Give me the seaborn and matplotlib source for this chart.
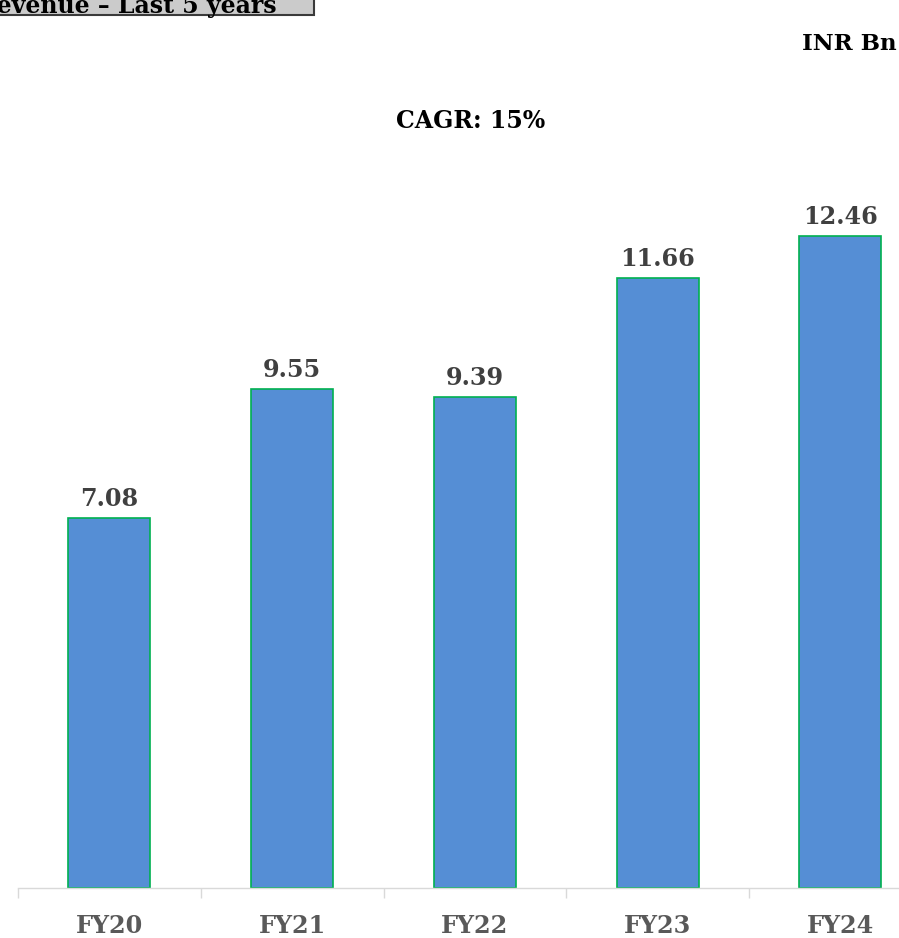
import matplotlib
matplotlib.use("Agg")
import matplotlib.pyplot as plt
import seaborn as sns
import pandas as pd
import numpy as np
from matplotlib.patches import Rectangle

categories = ["FY20", "FY21", "FY22", "FY23", "FY24"]
revenue = [7.08, 9.55, 9.39, 11.66, 12.46]
title_text = "Revenue – Last 5 years"
unit_text = "INR Bn"
cagr_text = "CAGR: 15%"

sns.set_theme(style="white")
plt.rcParams['font.family'] = ['DejaVu Serif', 'Liberation Serif']

df = pd.DataFrame({"year": categories, "rev": revenue})

W, H = 899, 938
fig = plt.figure(figsize=(W/100, H/100), dpi=100)
left_px, base_px, step = 18, 888, 182.75
top_val = 14.0
ppu = 52.3
ax = fig.add_axes([left_px/W, (H-base_px)/H, 5*step/W, top_val*ppu/H])

sns.barplot(data=df, x="year", y="rev", ax=ax, color="#558ED5", saturation=1,
            width=0.45, edgecolor="#00B050", linewidth=1.2)
ax.set_xlim(-0.5, 4.5)
ax.set_ylim(0, top_val)
ax.set_xlabel("")
ax.set_ylabel("")
ax.set_yticks([])
for s in ["top", "right", "left"]:
    ax.spines[s].set_visible(False)
ax.spines["bottom"].set_color("#d9d9d9")
ax.spines["bottom"].set_linewidth(1)
ax.tick_params(axis="x", which="major", length=0, pad=19)
ax.set_xticks(range(len(categories)))
ax.set_xticklabels(categories, fontsize=17.2, fontweight="heavy", color="#595959")
ax.set_xticks(np.arange(-0.5, 5, 1), minor=True)
ax.tick_params(axis="x", which="minor", length=7, width=1, color="#d9d9d9", bottom=True)

for i, v in enumerate(revenue):
    ax.annotate(f"{v:.2f}", (i, v), xytext=(0, 8.6), textcoords="offset points",
                ha="center", va="baseline", fontsize=17.2, fontweight="heavy", color="#404040")

fig.text(471/W, 1-128/H, cagr_text, ha="center", va="baseline", fontsize=17, fontweight="heavy", color="black")
fig.text(897/W, 1-50/H, unit_text, ha="right", va="baseline", fontsize=16.5, fontweight="heavy", color="black")

fig.patches.append(Rectangle((-20/W, 1-15/H), 334/W, 40/H, transform=fig.transFigure,
                             facecolor="#cbcbcb", edgecolor="#3a3a3a", linewidth=1.5, zorder=5))
fig.text(277/W, 1-12.5/H, title_text, ha="right", va="baseline", fontsize=17, fontweight="heavy",
         color="black", zorder=6)

fig.savefig("out.png", dpi=100)
